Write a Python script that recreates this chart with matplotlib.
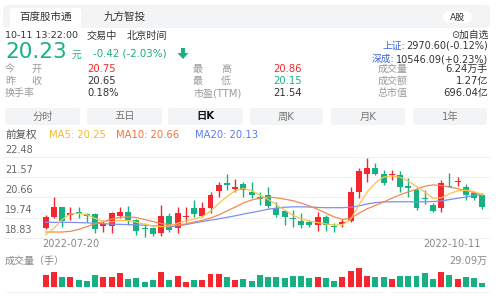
import matplotlib
matplotlib.use("Agg")
import matplotlib.pyplot as plt
from matplotlib.patches import FancyBboxPatch, Polygon

plt.rcParams['font.family'] = ['DejaVu Sans', 'Noto Sans CJK SC']

# ---- daily K data ----
opens = [19.28, 19.78, 20.21, 19.86, 20.01, 19.90, 19.90, 19.37, 19.37, 19.83,
         19.98, 19.63, 19.28, 19.28, 19.02, 19.83, 19.25, 19.77, 20.16, 19.83,
         20.19, 20.95, 21.30, 21.06, 21.26, 20.92, 20.68, 20.79, 20.16, 20.04,
         19.74, 19.58, 19.52, 19.40, 19.78, 19.37, 19.43, 19.58, 20.92, 21.71,
         22.01, 21.73, 21.70, 21.68, 21.18, 21.00, 20.64, 20.31, 20.19, 21.20,
         21.38, 21.15, 20.87, 20.75]
highs = [19.86, 20.66, 20.24, 20.24, 20.24, 19.93, 19.93, 19.63, 20.01, 20.24,
         20.27, 19.67, 19.48, 19.30, 20.31, 19.93, 20.24, 20.24, 20.54, 20.44,
         20.92, 21.35, 21.71, 21.50, 21.35, 21.35, 20.89, 21.13, 20.46, 20.08,
         20.08, 19.93, 19.63, 20.01, 19.86, 19.48, 19.67, 21.15, 22.01, 22.44,
         22.21, 21.91, 21.92, 21.88, 21.53, 21.07, 21.00, 20.39, 21.45, 21.76,
         21.60, 21.26, 20.92, 20.86]
lows = [19.22, 19.71, 19.32, 19.63, 19.71, 19.55, 19.02, 19.07, 19.02, 19.71,
        19.40, 18.94, 18.87, 18.90, 18.91, 19.07, 19.02, 19.55, 19.78, 19.78,
        19.93, 20.69, 21.00, 20.92, 20.69, 20.65, 20.31, 20.18, 19.78, 19.40,
        19.32, 19.25, 19.32, 19.13, 19.13, 19.10, 19.32, 19.52, 20.62, 21.38,
        21.68, 21.22, 21.46, 20.92, 20.69, 20.08, 20.35, 20.00, 20.01, 21.15,
        21.20, 20.54, 20.54, 20.15]
closes = [19.78, 20.24, 19.58, 19.93, 19.95, 19.81, 19.22, 19.43, 19.93, 19.98,
          19.63, 19.13, 19.22, 18.98, 19.83, 19.17, 19.93, 19.81, 19.90, 20.19,
          20.77, 21.23, 21.23, 21.12, 21.00, 20.77, 20.59, 20.27, 19.86, 19.78,
          19.68, 19.40, 19.40, 19.78, 19.40, 19.31, 19.55, 20.92, 21.86, 21.99,
          21.74, 21.33, 21.74, 21.15, 21.08, 20.16, 20.58, 20.05, 21.33, 21.15,
          21.42, 20.76, 20.65, 20.23]
ma5 = [18.95, 19.25, 19.65, 19.91, 19.93, 19.87, 19.70, 19.56, 19.55, 19.60,
       19.61, 19.53, 19.43, 19.36, 19.32, 19.36, 19.48, 19.58, 19.67, 19.78,
       20.03, 20.38, 20.70, 20.96, 21.07, 20.96, 20.77, 20.56, 20.33, 20.08,
       19.84, 19.68, 19.58, 19.51, 19.45, 19.40, 19.41, 19.65, 20.31, 20.90,
       21.32, 21.59, 21.64, 21.58, 21.40, 21.16, 20.90, 20.62, 20.64, 20.82,
       20.96, 20.99, 20.92, 20.77]
ma10 = [19.08, 19.08, 19.08, 19.11, 19.20, 19.33, 19.46, 19.56, 19.67, 19.75,
        19.77, 19.74, 19.65, 19.56, 19.47, 19.42, 19.40, 19.45, 19.54, 19.61,
        19.72, 19.86, 20.04, 20.22, 20.41, 20.54, 20.63, 20.68, 20.64, 20.58,
        20.51, 20.40, 20.27, 20.12, 19.94, 19.77, 19.66, 19.71, 19.93, 20.14,
        20.29, 20.45, 20.62, 20.78, 20.91, 21.03, 21.17, 21.23, 21.20, 21.13,
        21.06, 20.97, 20.88, 20.77]
ma20 = [19.52, 19.52, 19.52, 19.52, 19.51, 19.50, 19.48, 19.46, 19.44, 19.43,
        19.42, 19.41, 19.39, 19.37, 19.34, 19.32, 19.36, 19.42, 19.49, 19.56,
        19.62, 19.68, 19.75, 19.82, 19.90, 19.97, 20.04, 20.12, 20.17, 20.21,
        20.23, 20.23, 20.22, 20.20, 20.19, 20.19, 20.19, 20.21, 20.27, 20.36,
        20.42, 20.45, 20.46, 20.46, 20.46, 20.46, 20.46, 20.47, 20.50, 20.56,
        20.62, 20.68, 20.75, 20.80]
volumes = [18.5, 22.7, 15.9, 14.8, 10.6, 9.5, 18.5, 15.9, 15.9, 21.2,
           11.6, 13.2, 7.9, 10.6, 22.7, 10.6, 16.9, 6.9, 10.6, 10.6,
           20.1, 20.1, 14.8, 10.6, 11.6, 9.5, 18.5, 15.9, 15.9, 13.2,
           16.9, 17.5, 13.2, 15.9, 13.2, 9.5, 14.8, 25.4, 29.09, 17.5,
           14.8, 14.8, 12.2, 16.9, 16.9, 16.9, 21.2, 12.2, 22.7, 18.5,
           12.2, 14.8, 14.3, 6.3]
price_ticks = [22.48, 21.57, 20.66, 19.74, 18.83]
date_labels = ["2022-07-20", "2022-10-11"]
vol_max_label = "29.09万"

RED = "#f5262d"
GREEN = "#17b083"
TXT = "#333333"
GRAY = "#999999"

fig = plt.figure(figsize=(5, 3), dpi=100)
fig.patch.set_facecolor("white")

# background axes in pixel units (x right, y down)
bg = fig.add_axes([0, 0, 1, 1])
bg.set_xlim(0, 500)
bg.set_ylim(300, 0)
bg.axis("off")


def box(x0, y0, x1, y1, color, r=4):
    bg.add_patch(FancyBboxPatch((x0, y0), x1 - x0, y1 - y0,
                                boxstyle="round,pad=0,rounding_size=%g" % r,
                                fc=color, ec="none"))


def txt(x, y, s, size=7.5, color=TXT, ha="left", **kw):
    return bg.text(x, y, s, fontsize=size, color=color, ha=ha, va="center", **kw)


# top tabs
box(3, 5, 490, 28, "#f3f4f6", r=5)
box(10, 8, 81, 32, "white", r=4)
txt(45.5, 18, "百度股市通", 7.6, ha="center")
txt(125, 17, "九方智投", 7.6, ha="center")
box(443, 11, 472, 23, "white", r=6)
txt(457.5, 17, "A股", 6.5, ha="center")

# time line
txt(5, 36, "10-11 13:22:00", 6.8)
txt(87, 36, "交易中", 7.3)
txt(127, 36, "北京时间", 7.3)
txt(488, 35, "⊙加自选", 7.0, ha="right")

# price line
txt(5, 52, "20.23", 15.5, color=GREEN)
txt(72, 55, "元", 7.0, color=GREEN)
txt(93, 54, "-0.42 (-2.03%)", 7.4, color=GREEN)
bg.add_patch(Polygon([(181, 48), (185, 48), (185, 53), (188.5, 53), (183, 59),
                      (177.5, 53), (181, 53)], closed=True, fc=GREEN, ec="none"))

# index quotes: number right-aligned, name placed just left of it
fig.canvas.draw()
renderer = fig.canvas.get_renderer()
for y, name, val in [(46, "上证:", "2970.60(-0.12%)"), (59, "深成:", "10546.09(+0.23%)")]:
    t = txt(488, y, val, 7.0, ha="right")
    left = t.get_window_extent(renderer).x0
    txt(left - 1, y, name, 7.0, "#3a66d6", ha="right")

# stats rows
rows_y = [69, 81, 93]
txt(5, rows_y[0], "今", 7.2, GRAY); txt(31, rows_y[0], "开", 7.2, GRAY)
txt(5, rows_y[1], "昨", 7.2, GRAY); txt(31, rows_y[1], "收", 7.2, GRAY)
txt(5, rows_y[2], "换手率", 7.2, GRAY)
txt(87, rows_y[0], "20.75", 7.2, RED)
txt(87, rows_y[1], "20.65", 7.2)
txt(87, rows_y[2], "0.18%", 7.2)
txt(193, rows_y[0], "最", 7.2, GRAY); txt(221, rows_y[0], "高", 7.2, GRAY)
txt(193, rows_y[1], "最", 7.2, GRAY); txt(221, rows_y[1], "低", 7.2, GRAY)
txt(193, rows_y[2], "市盈(TTM)", 7.2, GRAY)
txt(273, rows_y[0], "20.86", 7.2, RED)
txt(273, rows_y[1], "20.15", 7.2, GREEN)
txt(273, rows_y[2], "21.54", 7.2)
txt(378, rows_y[0], "成交量", 7.2, GRAY)
txt(378, rows_y[1], "成交额", 7.2, GRAY)
txt(378, rows_y[2], "总市值", 7.2, GRAY)
txt(488, rows_y[0], "6.24万手", 7.2, ha="right")
txt(488, rows_y[1], "1.27亿", 7.2, ha="right")
txt(488, rows_y[2], "696.04亿", 7.2, ha="right")

# period buttons
tabs = ["分时", "五日", "日K", "周K", "月K", "1年"]
tab_x = [(5, 80), (87, 162), (168, 243), (250, 323), (331, 405), (413, 487)]
for name, (a, b) in zip(tabs, tab_x):
    box(a, 108, b, 125, "#f3f4f6", r=3)
    if name == "日K":
        txt((a + b) / 2, 116.5, name, 7.4, "#111111", ha="center", fontweight="bold")
    else:
        txt((a + b) / 2, 116.5, name, 7.4, "#777777", ha="center")

# MA legend
txt(5, 135, "前复权", 7.6, "#555555")
txt(49, 135, "MA5: 20.25", 7.2, "#f5b935")
txt(116, 135, "MA10: 20.66", 7.2, "#f3733a")
txt(195, 135, "MA20: 20.13", 7.2, "#5b7cf0")

# ---- price axes ----
n = len(closes)
idx = list(range(n))
xlim = (-45.7 / 8.24, (500 - 45.7) / 8.24)
ax = fig.add_axes([0, 1 - 240 / 300, 1, 95 / 300])
ax.set_facecolor("none")
ax.set_xlim(*xlim)
ax.set_ylim(18.716, 23.050)
ax.axis("off")

for v in price_ticks:
    ax.axhline(v, xmin=4 / 500, xmax=490 / 500, color="#f0f0f0", lw=0.8, zorder=0)
    ax.annotate("%.2f" % v, xy=(5 / 500, v), xycoords=("axes fraction", "data"),
                xytext=(0, 5.4), textcoords="offset points", va="center",
                fontsize=7, color="#666666")

cols = [RED if c >= o else GREEN for o, c in zip(opens, closes)]
bottoms = [min(o, c) for o, c in zip(opens, closes)]
heights = [max(abs(c - o), 0.045) for o, c in zip(opens, closes)]
ax.vlines(idx, lows, highs, colors=cols, linewidth=1.0, zorder=2)
ax.bar(idx, heights, bottom=bottoms, width=0.72, color=cols, zorder=2)
ax.plot(idx, ma20, color="#7e8ff0", lw=0.9, zorder=3)
ax.plot(idx, ma10, color="#f38a4f", lw=0.9, zorder=3)
ax.plot(idx, ma5, color="#f7c548", lw=0.9, zorder=3)

txt(42, 244, date_labels[0], 7.1, "#888888")
txt(481, 244, date_labels[1], 7.1, "#888888", ha="right")
txt(5, 261, "成交量（手）", 7.2, "#888888")
txt(487, 261, vol_max_label, 7.1, "#888888", ha="right")

# ---- volume axes ----
vax = fig.add_axes([0, 1 - 286.7 / 300, 1, 18.4 / 300])
vax.set_facecolor("none")
vax.set_xlim(*xlim)
vax.set_ylim(0, max(volumes))
vax.axis("off")
vax.axhline(0, xmin=5 / 500, xmax=490 / 500, color="#eeeeee", lw=0.8, zorder=0)
vax.bar(idx, volumes, width=0.72, color=cols, zorder=2, clip_on=False)

for a, b in [(7, 96), (103, 192), (200, 289), (298, 384), (392, 488)]:
    bg.plot([a, b], [292, 292], color="#eeeeee", lw=0.8)

fig.savefig("out.png", dpi=100)
